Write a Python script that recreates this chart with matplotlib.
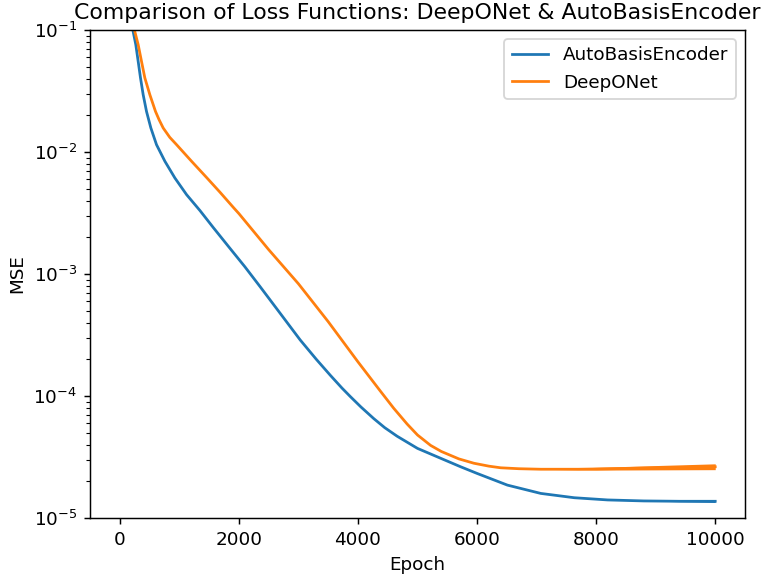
import matplotlib
matplotlib.use("Agg")
import matplotlib.pyplot as plt

# AutoBasisEncoder loss
abe_epochs = [0, 100, 180, 224, 269, 309, 348, 393, 449, 522, 617, 758, 926, 1122,
              1347, 1571, 1852, 2100, 2357, 2694, 3030, 3300, 3535, 3732, 3872, 4050,
              4265, 4450, 4658, 5000, 5387, 5724, 6000, 6510, 7071, 7633, 8194, 8800,
              9400, 10000]
abe_mse = [1.0, 0.282, 0.138, 0.0975, 0.0759, 0.0553, 0.0405, 0.0295, 0.0215, 0.01574,
           0.01148, 8.39e-3, 6.12e-3, 4.47e-3, 3.31e-3, 2.40e-3, 1.62e-3, 1.148e-3,
           7.87e-4, 4.76e-4, 2.88e-4, 2.00e-4, 1.48e-4, 1.161e-4, 9.89e-5, 8.13e-5,
           6.53e-5, 5.50e-5, 4.68e-5, 3.72e-5, 3.09e-5, 2.63e-5, 2.32e-5, 1.86e-5,
           1.59e-5, 1.466e-5, 1.406e-5, 1.38e-5, 1.371e-5, 1.371e-5]

# DeepONet loss
don_epochs = [0, 150, 252, 309, 365, 421, 505, 600, 660, 729, 840, 954, 1206, 1459,
              1683, 1908, 2000, 2500, 3000, 3500, 4000, 4377, 4600, 4826, 5000, 5219,
              5400, 5696, 5948, 6200, 6397, 6700, 7071, 7700, 8249, 9147, 10000]
don_mse = [1.2, 0.178, 0.0975, 0.0759, 0.0553, 0.0405, 0.0295, 0.0215, 0.0184, 0.01574,
           0.01318, 0.01148, 8.39e-3, 6.17e-3, 4.68e-3, 3.51e-3, 3.13e-3, 1.585e-3,
           8.32e-4, 4.07e-4, 1.905e-4, 1.096e-4, 7.94e-5, 5.89e-5, 4.79e-5, 3.94e-5,
           3.51e-5, 3.05e-5, 2.81e-5, 2.66e-5, 2.58e-5, 2.535e-5, 2.51e-5, 2.51e-5,
           2.535e-5, 2.58e-5, 2.63e-5]

# late-training jitter envelopes
don_band_epochs = [7000, 8000, 9000, 10000]
don_band_lo = [2.51e-5, 2.47e-5, 2.48e-5, 2.49e-5]
don_band_hi = [2.51e-5, 2.60e-5, 2.69e-5, 2.78e-5]
abe_band_epochs = [8500, 10000]
abe_band_lo = [1.39e-5, 1.34e-5]
abe_band_hi = [1.39e-5, 1.40e-5]

title = "Comparison of Loss Functions: DeepONet & AutoBasisEncoder"

DPI = 132
fig = plt.figure(figsize=(761 / DPI, 575 / DPI), dpi=DPI)
ax = fig.add_axes([90 / 761, 1 - 518 / 575, (745 - 90) / 761, (518 - 30) / 575])

ax.plot(abe_epochs, abe_mse, color="#1f77b4", lw=1.5, label="AutoBasisEncoder")
ax.plot(don_epochs, don_mse, color="#ff7f0e", lw=1.5, label="DeepONet")
ax.fill_between(don_band_epochs, don_band_lo, don_band_hi, color="#ff7f0e", lw=0)
ax.fill_between(abe_band_epochs, abe_band_lo, abe_band_hi, color="#1f77b4", lw=0)

ax.set_yscale("log")
ax.set_ylim(1e-5, 1e-1)
ax.set_xlim(-500, 10500)
ax.set_xlabel("Epoch")
ax.set_ylabel("MSE")
ax.set_title(title)
ax.legend(loc="upper right")

fig.savefig("out.png", dpi=DPI)
